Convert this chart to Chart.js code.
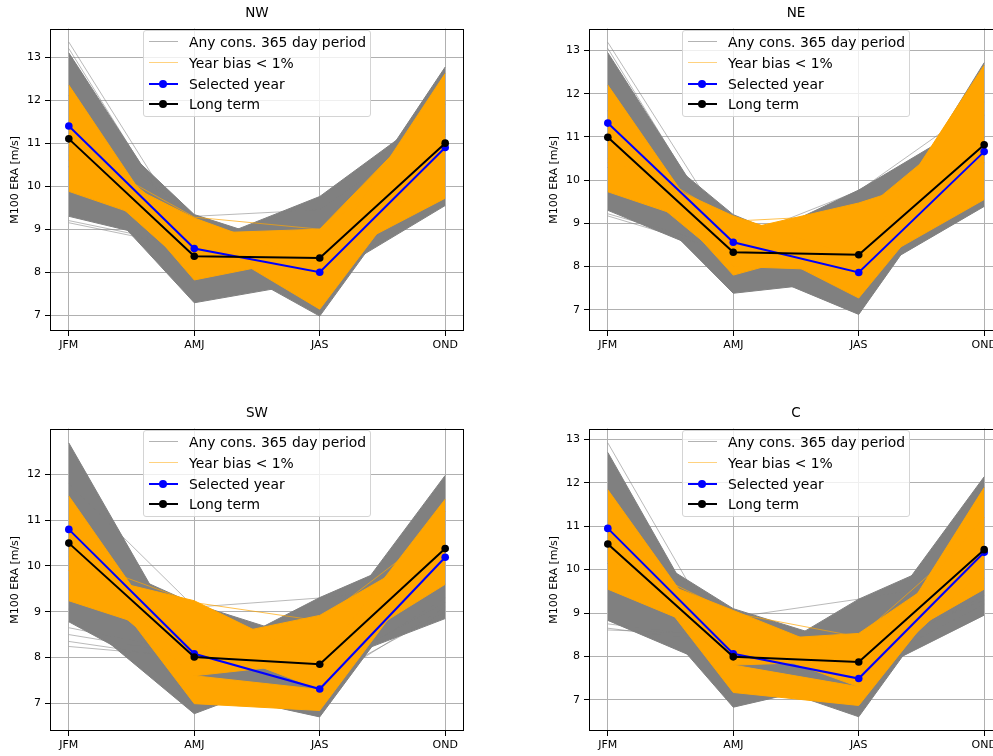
<!DOCTYPE html>
<html>
<head>
<meta charset="utf-8">
<script src="https://cdn.jsdelivr.net/npm/chart.js@4.4.0/dist/chart.umd.min.js"></script>
<style>
  html, body { margin: 0; padding: 0; width: 993px; height: 756px; overflow: hidden; background: #fff; }
  body { position: relative; font-family: "DejaVu Sans", sans-serif; color: #000; }
  canvas { position: absolute; }
  .title { position: absolute; font-size: 13.5px; transform: translate(-50%, -50%); white-space: nowrap; }
  .legend { position: absolute; width: 228px; height: 87px; box-sizing: border-box; border: 1px solid #d4d4d4;
            border-radius: 3px; background: rgba(255, 255, 255, 0.8); }
  .handle { position: absolute; left: 5px; width: 29px; }
  .dot { position: absolute; left: 15px; width: 8px; height: 8px; border-radius: 50%; }
  .label { position: absolute; left: 45px; font-size: 13.9px; line-height: 16px; transform: translateY(-50%); white-space: nowrap; }
</style>
</head>
<body>
<script>
// Quarter labels on the x axis
const quarters = ['JFM', 'AMJ', 'JAS', 'OND'];

// Sliding 365-day periods come in ribbons: neighbouring start dates give nearly the
// same quarterly means, so each ribbon is stored as its upper and lower member [U, L].

// ---- NW ----
const nwGrayRibbons = [
  [[13.1, 8.6, 9.76, 11.9], [10.45, 7.29, 7.8, 9.55]],
  [[12.1, 9.34, 8.4, 12.77], [9.3, 8.6, 6.98, 11.0]]
];
const nwGrayLines = [
  [13.35, 8.7, 8.3, 10.8],
  [13.2, 8.5, 8.0, 11.2],
  [9.15, 8.55, 7.7, 9.9],
  [9.2, 8.6, 7.9, 10.3],
  [11.5, 9.3, 9.45, 11.5]
];
const nwOrangeRibbons = [
  [[12.35, 8.0, 9.0, 12.0], [11.2, 7.82, 8.4, 11.0]],
  [[11.3, 8.9, 9.0, 11.0], [10.6, 8.0, 8.2, 9.72]],
  [[10.72, 9.26, 8.2, 12.62], [9.88, 8.88, 7.14, 11.0]]
];
const nwOrangeLines = [
  [10.9, 9.28, 9.0, 11.7]
];
const nwSelected = [11.4, 8.55, 8.0, 10.9];
const nwLongTerm = [11.1, 8.37, 8.33, 11.0];
const nwTicks = [7, 8, 9, 10, 11, 12, 13];

// ---- NE ----
const neGrayRibbons = [
  [[12.95, 8.4, 9.77, 11.5], [10.3, 7.38, 7.7, 9.39]],
  [[11.6, 9.2, 8.0, 12.72], [9.3, 8.1, 6.89, 11.0]]
];
const neGrayLines = [
  [13.19, 8.6, 8.5, 11.0],
  [13.05, 8.3, 8.2, 10.6],
  [9.17, 8.3, 7.6, 10.0],
  [9.22, 8.4, 7.8, 9.7],
  [11.2, 8.6, 9.75, 11.8]
];
const neOrangeRibbons = [
  [[12.2, 8.0, 9.2, 11.6], [11.0, 7.8, 8.6, 10.4]],
  [[11.1, 8.8, 9.47, 10.4], [10.4, 8.0, 7.9, 9.55]],
  [[10.5, 9.17, 8.2, 12.66], [9.73, 8.75, 7.27, 10.8]]
];
const neOrangeLines = [
  [10.8, 9.05, 9.2, 11.2]
];
const neSelected = [11.32, 8.56, 7.86, 10.66];
const neLongTerm = [10.99, 8.33, 8.27, 10.82];
const neTicks = [7, 8, 9, 10, 11, 12, 13];

// ---- SW ----
const swGrayRibbons = [
  [[12.69, 7.9, 9.31, 10.5], [9.05, 6.77, 7.8, 8.85]],
  [[10.4, 9.17, 8.3, 11.98], [8.78, 7.3, 6.7, 10.4]]
];
const swGrayLines = [
  [8.24, 8.0, 7.6, 9.3],
  [8.35, 7.95, 7.4, 9.1],
  [8.5, 8.05, 7.7, 9.2],
  [8.65, 8.1, 7.5, 9.0],
  [11.8, 9.1, 9.3, 9.6]
];
const swOrangeRibbons = [
  [[11.53, 7.6, 7.3, 11.2], [10.6, 6.99, 6.84, 10.5]],
  [[10.6, 8.35, 8.92, 10.5], [9.9, 7.6, 7.9, 9.6]],
  [[9.9, 9.24, 7.9, 11.46], [9.24, 8.35, 7.3, 10.2]]
];
const swOrangeLines = [
  [10.2, 9.2, 8.8, 10.9]
];
const swSelected = [10.8, 8.08, 7.31, 10.19];
const swLongTerm = [10.5, 8.01, 7.85, 10.38];
const swTicks = [7, 8, 9, 10, 11, 12];

// ---- C ----
const cGrayRibbons = [
  [[12.7, 7.6, 9.32, 10.6], [10.15, 6.83, 7.5, 8.95]],
  [[10.9, 9.1, 8.2, 12.14], [8.83, 7.6, 6.61, 10.6]]
];
const cGrayLines = [
  [12.92, 7.9, 8.0, 10.2],
  [8.61, 8.5, 7.9, 9.4],
  [8.65, 8.3, 7.7, 9.2],
  [8.75, 8.4, 8.1, 9.3],
  [11.0, 8.9, 9.32, 9.8]
];
const cOrangeRibbons = [
  [[11.84, 7.8, 7.3, 11.89], [10.9, 7.17, 6.87, 10.5]],
  [[10.9, 8.35, 8.53, 10.5], [10.2, 7.8, 7.9, 9.55]],
  [[10.2, 9.06, 7.9, 11.2], [9.55, 8.35, 7.3, 10.0]]
];
const cOrangeLines = [
  [10.4, 9.0, 8.45, 11.0]
];
const cSelected = [10.95, 8.06, 7.49, 10.4];
const cLongTerm = [10.59, 7.99, 7.87, 10.46];
const cTicks = [7, 8, 9, 10, 11, 12, 13];

const GRAY = '#808080';
const GRAY_LINE = 'rgba(128,128,128,0.55)';
const ORANGE = '#ffa500';
const ORANGE_LINE = 'rgba(255,165,0,0.7)';
const FONT = '"DejaVu Sans", sans-serif';

const panels = [
  { name: 'NW', left: 50, top: 23, yMin: 6.634, yMax: 13.663, ticks: nwTicks,
    grayRibbons: nwGrayRibbons, grayLines: nwGrayLines,
    orangeRibbons: nwOrangeRibbons, orangeLines: nwOrangeLines,
    selected: nwSelected, longTerm: nwLongTerm },
  { name: 'NE', left: 589, top: 23, yMin: 6.506, yMax: 13.508, ticks: neTicks,
    grayRibbons: neGrayRibbons, grayLines: neGrayLines,
    orangeRibbons: neOrangeRibbons, orangeLines: neOrangeLines,
    selected: neSelected, longTerm: neLongTerm },
  { name: 'SW', left: 50, top: 423, yMin: 6.392, yMax: 13.004, ticks: swTicks,
    grayRibbons: swGrayRibbons, grayLines: swGrayLines,
    orangeRibbons: swOrangeRibbons, orangeLines: swOrangeLines,
    selected: swSelected, longTerm: swLongTerm },
  { name: 'C', left: 589, top: 423, yMin: 6.282, yMax: 13.249, ticks: cTicks,
    grayRibbons: cGrayRibbons, grayLines: cGrayLines,
    orangeRibbons: cOrangeRibbons, orangeLines: cOrangeLines,
    selected: cSelected, longTerm: cLongTerm }
];

const AXIS_W = 414, AXIS_H = 308, Y_W = 44, X_H = 26, PAD_T = 5, PAD_R = 10;

function pts(arr) {
  return arr.map((v, i) => ({ x: i, y: v }));
}

function ribbon(sets, pair, color) {
  sets.push({ data: pts(pair[0]), borderColor: color, borderWidth: 1, backgroundColor: color, fill: '+1' });
  sets.push({ data: pts(pair[1]), borderColor: color, borderWidth: 1, fill: false });
}

function buildDatasets(p) {
  const sets = [];
  p.grayRibbons.forEach(r => ribbon(sets, r, GRAY));
  p.grayLines.forEach(l => sets.push({ data: pts(l), borderColor: GRAY_LINE, borderWidth: 1, fill: false }));
  p.orangeRibbons.forEach(r => ribbon(sets, r, ORANGE));
  p.orangeLines.forEach(l => sets.push({ data: pts(l), borderColor: ORANGE_LINE, borderWidth: 1, fill: false }));
  sets.push({ data: pts(p.selected), borderColor: '#0000ff', borderWidth: 2, pointRadius: 3.8,
              pointBackgroundColor: '#0000ff', pointBorderWidth: 0, fill: false });
  sets.push({ data: pts(p.longTerm), borderColor: '#000000', borderWidth: 2, pointRadius: 3.8,
              pointBackgroundColor: '#000000', pointBorderWidth: 0, fill: false });
  // first pushed is drawn first (bottom)
  sets.forEach((s, i) => {
    s.order = sets.length - i;
    if (s.pointRadius === undefined) s.pointRadius = 0;
    s.tension = 0;
  });
  return sets;
}

const spines = {
  id: 'spines',
  afterDraw(chart) {
    const { ctx, chartArea: a } = chart;
    ctx.save();
    ctx.strokeStyle = '#000';
    ctx.lineWidth = 1;
    ctx.strokeRect(Math.round(a.left) + 0.5, Math.round(a.top) + 0.5,
                   Math.round(a.right - a.left) - 1, Math.round(a.bottom - a.top) - 1);
    ctx.restore();
  }
};

const legendItems = [
  { text: 'Any cons. 365 day period', color: 'rgba(128,128,128,0.6)', lw: 1.3, dot: false },
  { text: 'Year bias < 1%', color: 'rgba(255,165,0,0.5)', lw: 1.3, dot: false },
  { text: 'Selected year', color: '#0000ff', lw: 2, dot: true },
  { text: 'Long term', color: '#000000', lw: 2, dot: true }
];

panels.forEach(p => {
  const canvas = document.createElement('canvas');
  const cw = Y_W + AXIS_W + PAD_R, ch = PAD_T + AXIS_H + X_H;
  canvas.width = cw;
  canvas.height = ch;
  canvas.style.left = (p.left - Y_W) + 'px';
  canvas.style.top = (p.top - PAD_T) + 'px';
  canvas.style.width = cw + 'px';
  canvas.style.height = ch + 'px';
  document.body.appendChild(canvas);

  const tickFont = { family: FONT, size: 11 };
  new Chart(canvas, {
    type: 'line',
    data: { datasets: buildDatasets(p) },
    options: {
      responsive: false,
      animation: false,
      events: [],
      layout: { padding: { top: PAD_T, right: PAD_R, left: 0, bottom: 0 } },
      plugins: { legend: { display: false }, tooltip: { enabled: false } },
      scales: {
        x: {
          type: 'linear', min: -0.15, max: 3.15,
          afterBuildTicks: s => { s.ticks = quarters.map((q, i) => ({ value: i })); },
          afterFit: s => { s.height = X_H; },
          ticks: { callback: v => quarters[v], font: tickFont, color: '#000', padding: 3, maxRotation: 0, autoSkip: false },
          grid: { color: '#b0b0b0', lineWidth: 1, tickColor: '#000', tickLength: 5 },
          border: { display: false }
        },
        y: {
          min: p.yMin, max: p.yMax,
          afterBuildTicks: s => { s.ticks = p.ticks.map(v => ({ value: v })); },
          afterFit: s => { s.width = Y_W; },
          ticks: { font: tickFont, color: '#000', padding: 4 },
          grid: { color: '#b0b0b0', lineWidth: 1, tickColor: '#000', tickLength: 5 },
          border: { display: false },
          title: { display: true, text: 'M100 ERA [m/s]', font: tickFont, color: '#000', padding: { top: 3, bottom: 0 } }
        }
      }
    },
    plugins: [spines]
  });

  const title = document.createElement('div');
  title.className = 'title';
  title.textContent = p.name;
  title.style.left = (p.left + AXIS_W / 2) + 'px';
  title.style.top = (p.top - 11.5) + 'px';
  document.body.appendChild(title);

  const legend = document.createElement('div');
  legend.className = 'legend';
  legend.style.left = (p.left + 93) + 'px';
  legend.style.top = (p.top + 7) + 'px';
  legendItems.forEach((it, i) => {
    const cy = 10.7 + i * 20.9;
    const h = document.createElement('div');
    h.className = 'handle';
    h.style.top = (cy - it.lw / 2) + 'px';
    h.style.height = it.lw + 'px';
    h.style.background = it.color;
    legend.appendChild(h);
    if (it.dot) {
      const d = document.createElement('div');
      d.className = 'dot';
      d.style.top = (cy - 4) + 'px';
      d.style.background = it.color;
      legend.appendChild(d);
    }
    const t = document.createElement('div');
    t.className = 'label';
    t.style.top = cy + 'px';
    t.textContent = it.text;
    legend.appendChild(t);
  });
  document.body.appendChild(legend);
});
</script>
</body>
</html>
